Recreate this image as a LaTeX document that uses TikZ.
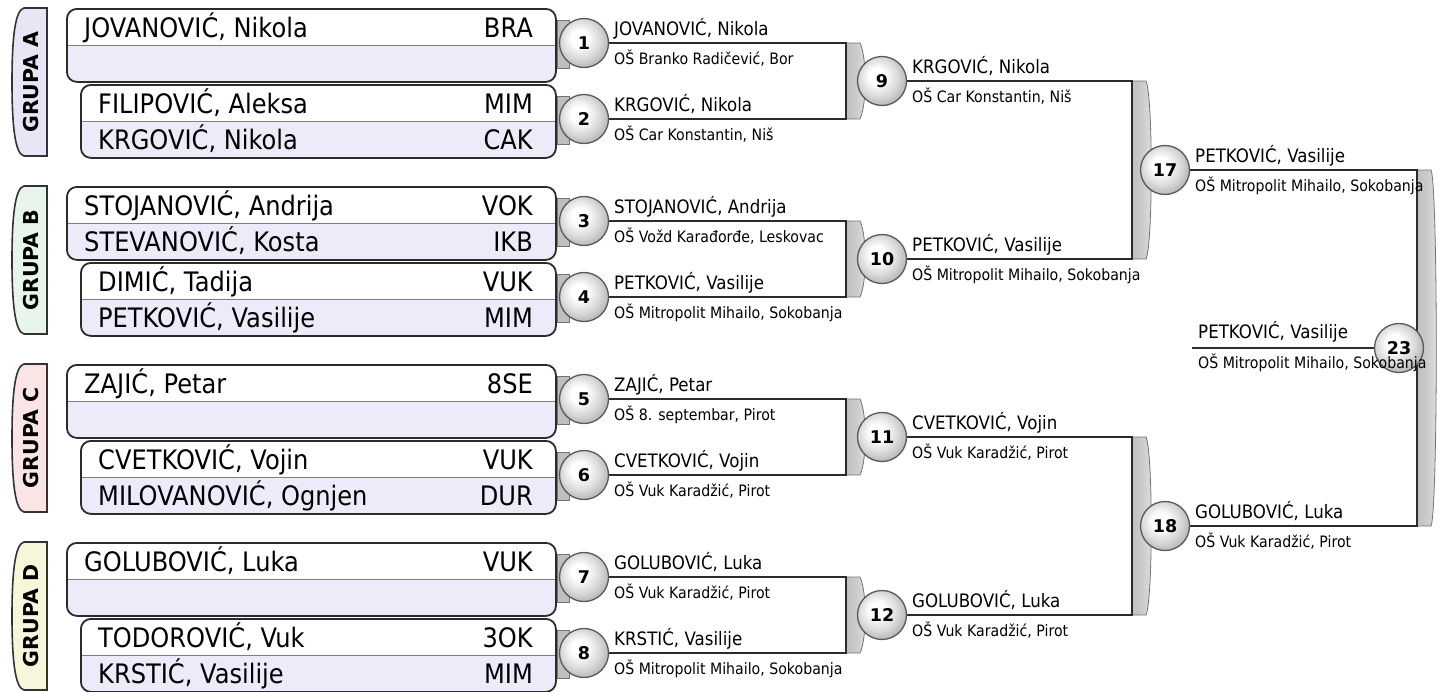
\documentclass[tikz,border=0pt]{standalone}
\usepackage{fontspec}
\setmainfont{DejaVu Sans}
\newfontfamily\cond{DejaVu Sans}[FakeStretch=0.9]
\usetikzlibrary{calc}
\pgfdeclarelayer{bg}
\pgfsetlayers{bg,main}
\definecolor{lav}{HTML}{EBEBFA}
\definecolor{tabA}{HTML}{E6E6F7}
\definecolor{tabB}{HTML}{E8F5EA}
\definecolor{tabC}{HTML}{FAE4E4}
\definecolor{tabD}{HTML}{F6F6DA}
\definecolor{ink}{HTML}{2B2B2B}
\pgfdeclareradialshading{knob}{\pgfpoint{-6bp}{6bp}}{color(0bp)=(white); color(8bp)=(white); color(20bp)=(black!15); color(32bp)=(black!34); color(44bp)=(black!50); color(56bp)=(black!58)}
\pgfdeclarehorizontalshading{barshade}{100bp}{color(0bp)=(black!30); color(50bp)=(black!20); color(82bp)=(black!9); color(100bp)=(black!28)}
\newcommand{\brkbar}[3]{\path[bar] (#1,#2) -- (#1+14,#2) .. controls (#1+21,#2+15) and (#1+21,#3-15) .. (#1+14,#3) -- (#1,#3) -- cycle;}
\begin{document}
\begin{tikzpicture}[x=1pt,y=-1pt,
  line/.style={line width=2.4pt, draw=ink},
  rnd/.style={circle, minimum size=49pt, inner sep=0pt, draw=black!65, line width=1.3pt, shading=knob, font=\bfseries\fontsize{17.5}{17.5}\selectfont},
  entrybox/.style={draw=ink, fill=white, line width=1.8pt, rounded corners=10pt, minimum height=73pt, anchor=north west, inner sep=0pt,
     path picture={\fill[lav, sharp corners] (path picture bounding box.west) rectangle (path picture bounding box.south east);
                   \draw[black!50, line width=1pt, sharp corners] (path picture bounding box.west) -- (path picture bounding box.east);}},
  nm/.style={font=\cond\fontsize{26.8}{28}\selectfont, inner sep=0pt},
  who/.style={font=\cond\fontsize{18.5}{20}\selectfont, inner sep=0pt, anchor=base west},
  school/.style={font=\cond\fontsize{15.7}{17}\selectfont, inner sep=0pt, anchor=base west},
  grp/.style={font=\bfseries\fontsize{20.5}{20.5}\selectfont, rotate=90, inner sep=0pt},
  tabshape/.style={draw=black!80, line width=1.6pt},
  stub/.style={fill=black!25, draw=black!55, line width=0.8pt},
  bar/.style={shading=barshade, draw=black!55, line width=0.8pt}]
\useasboundingbox (0,0) rectangle (1448,691);

% group tabs
\foreach \t/\col/\lab in {8/tabA/A,186/tabB/B,364/tabC/C,542/tabD/D} {
  \draw[tabshape, fill=\col] (47,\t) -- (24,\t) .. controls (15,\t+2) and (12,\t+30) .. (12,\t+74) .. controls (12,\t+118) and (15,\t+146) .. (24,\t+148) -- (47,\t+148) -- cycle;
  \node[grp] (g\lab) at (31,\t+74) {GRUPA \lab};
}

% entry boxes and first-round circles
\foreach \n/\lx/\ty/\na/\ca/\nb/\cb in {
 1/66/8/{JOVANOVIĆ, Nikola}/BRA/{}/{},
 2/80/84/{FILIPOVIĆ, Aleksa}/MIM/{KRGOVIĆ, Nikola}/CAK,
 3/66/186/{STOJANOVIĆ, Andrija}/VOK/{STEVANOVIĆ, Kosta}/IKB,
 4/80/262/{DIMIĆ, Tadija}/VUK/{PETKOVIĆ, Vasilije}/MIM,
 5/66/364/{ZAJIĆ, Petar}/8SE/{}/{},
 6/80/440/{CVETKOVIĆ, Vojin}/VUK/{MILOVANOVIĆ, Ognjen}/DUR,
 7/66/542/{GOLUBOVIĆ, Luka}/VUK/{}/{},
 8/80/618/{TODOROVIĆ, Vuk}/3OK/{KRSTIĆ, Vasilije}/MIM} {
  \node[entrybox, minimum width={555-\lx}] (p\n) at (\lx,\ty) {};
  \node[nm, anchor=base west] (n\n) at (\lx+18,\ty+29) {\na};
  \node[nm, anchor=base east] (k\n) at (533,\ty+29) {\ca};
  \node[nm, anchor=base west] (m\n) at (\lx+18,\ty+65) {\nb};
  \node[nm, anchor=base east] (q\n) at (533,\ty+65) {\cb};
  \draw[stub] (557,\ty+12) rectangle (569,\ty+60);
  \node[rnd] (c\n) at (584,\ty+35) {\n};
}

% later-round circles
\node[rnd] (c9) at (882,81) {9};
\node[rnd] (c10) at (882,259) {10};
\node[rnd] (c11) at (882,437) {11};
\node[rnd] (c12) at (882,615) {12};
\node[rnd] (c17) at (1165,170) {17};
\node[rnd] (c18) at (1165,526) {18};
\node[rnd] (c23) at (1399,348) {23};

\coordinate (x1) at (846,0);
\coordinate (x2) at (1132,0);
\coordinate (x3) at (1417,0);
\coordinate (fin) at (1192,348);

\begin{pgfonlayer}{bg}
  \brkbar{846}{43}{119}
  \brkbar{846}{221}{297}
  \brkbar{846}{399}{475}
  \brkbar{846}{577}{653}
  \brkbar{1132}{81}{259}
  \brkbar{1132}{437}{615}
  \brkbar{1417}{170}{526}
  \draw[line] (c1) -- (c1 -| x1) -- (c2 -| x1) -- (c2);
  \draw[line] (c3) -- (c3 -| x1) -- (c4 -| x1) -- (c4);
  \draw[line] (c5) -- (c5 -| x1) -- (c6 -| x1) -- (c6);
  \draw[line] (c7) -- (c7 -| x1) -- (c8 -| x1) -- (c8);
  \draw[line] (c9) -- (c9 -| x2) -- (c10 -| x2) -- (c10);
  \draw[line] (c11) -- (c11 -| x2) -- (c12 -| x2) -- (c12);
  \draw[line] (c17) -- (c17 -| x3) -- (c18 -| x3) -- (c18);
  \draw[line] (fin) -- (c23);
\end{pgfonlayer}

% result labels
\foreach \n/\nm/\sc in {
 1/{JOVANOVIĆ, Nikola}/{OŠ Branko Radičević, Bor},
 2/{KRGOVIĆ, Nikola}/{OŠ Car Konstantin, Niš},
 3/{STOJANOVIĆ, Andrija}/{OŠ Vožd Karađorđe, Leskovac},
 4/{PETKOVIĆ, Vasilije}/{OŠ Mitropolit Mihailo, Sokobanja},
 5/{ZAJIĆ, Petar}/{OŠ 8. septembar, Pirot},
 6/{CVETKOVIĆ, Vojin}/{OŠ Vuk Karadžić, Pirot},
 7/{GOLUBOVIĆ, Luka}/{OŠ Vuk Karadžić, Pirot},
 8/{KRSTIĆ, Vasilije}/{OŠ Mitropolit Mihailo, Sokobanja},
 9/{KRGOVIĆ, Nikola}/{OŠ Car Konstantin, Niš},
 10/{PETKOVIĆ, Vasilije}/{OŠ Mitropolit Mihailo, Sokobanja},
 11/{CVETKOVIĆ, Vojin}/{OŠ Vuk Karadžić, Pirot},
 12/{GOLUBOVIĆ, Luka}/{OŠ Vuk Karadžić, Pirot},
 17/{PETKOVIĆ, Vasilije}/{OŠ Mitropolit Mihailo, Sokobanja},
 18/{GOLUBOVIĆ, Luka}/{OŠ Vuk Karadžić, Pirot}} {
  \node[who] (w\n) at ($(c\n)+(30,-8)$) {\nm};
  \node[school] (s\n) at ($(c\n)+(30,21)$) {\sc};
}
\node[who] (w23) at ($(fin)+(6,-10)$) {PETKOVIĆ, Vasilije};
\node[school] (s23) at ($(fin)+(6,20)$) {OŠ Mitropolit Mihailo, Sokobanja};
\end{tikzpicture}
\end{document}
